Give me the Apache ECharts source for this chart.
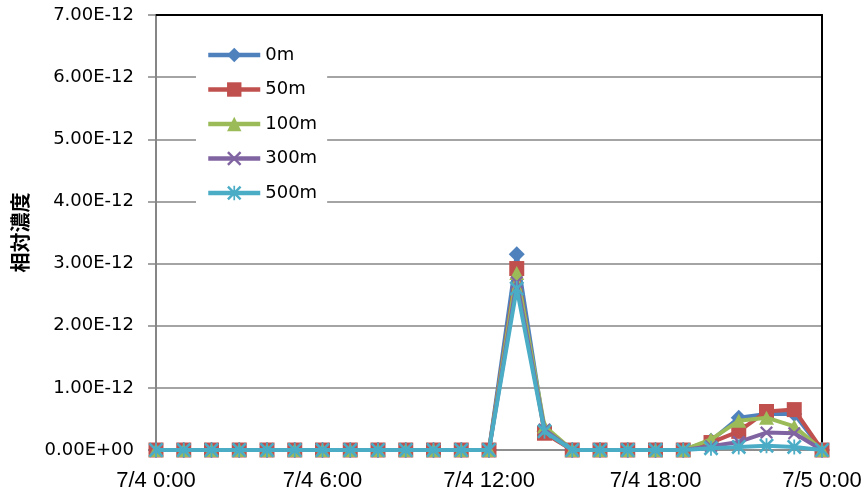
<!DOCTYPE html>
<html>
<head>
<meta charset="utf-8">
<script src="https://cdn.jsdelivr.net/npm/echarts@6/dist/echarts.min.js"></script>
<style>
  html, body { margin: 0; padding: 0; background: #fff; }
  #chart { width: 867px; height: 502px; }
</style>
</head>
<body>
<div id="chart"></div>
<script>
// Hourly time stamps, 7/4 0:00 .. 7/5 0:00
const hourLabels = [
  '7/4 0:00', '7/4 1:00', '7/4 2:00', '7/4 3:00', '7/4 4:00', '7/4 5:00',
  '7/4 6:00', '7/4 7:00', '7/4 8:00', '7/4 9:00', '7/4 10:00', '7/4 11:00',
  '7/4 12:00', '7/4 13:00', '7/4 14:00', '7/4 15:00', '7/4 16:00', '7/4 17:00',
  '7/4 18:00', '7/4 19:00', '7/4 20:00', '7/4 21:00', '7/4 22:00', '7/4 23:00',
  '7/5 0:00'
];

// Y axis tick labels (0 .. 7E-12)
const yTickLabels = [
  '0.00E+00', '1.00E-12', '2.00E-12', '3.00E-12',
  '4.00E-12', '5.00E-12', '6.00E-12', '7.00E-12'
];

const seriesNames = ['0m', '50m', '100m', '300m', '500m'];

// Relative concentration by height
const conc0m = [
  0, 0, 0, 0, 0, 0, 0, 0, 0, 0, 0, 0, 0,
  3.15e-12, 0.30e-12,
  0, 0, 0, 0, 0,
  0.15e-12, 0.52e-12, 0.58e-12, 0.58e-12, 0
];
const conc50m = [
  0, 0, 0, 0, 0, 0, 0, 0, 0, 0, 0, 0, 0,
  2.92e-12, 0.27e-12,
  0, 0, 0, 0, 0,
  0.12e-12, 0.30e-12, 0.62e-12, 0.65e-12, 0
];
const conc100m = [
  0, 0, 0, 0, 0, 0, 0, 0, 0, 0, 0, 0, 0,
  2.85e-12, 0.38e-12,
  0, 0, 0, 0, 0,
  0.17e-12, 0.47e-12, 0.52e-12, 0.38e-12, 0
];
const conc300m = [
  0, 0, 0, 0, 0, 0, 0, 0, 0, 0, 0, 0, 0,
  2.70e-12, 0.33e-12,
  0, 0, 0, 0, 0,
  0.06e-12, 0.13e-12, 0.28e-12, 0.27e-12, 0
];
const conc500m = [
  0, 0, 0, 0, 0, 0, 0, 0, 0, 0, 0, 0, 0,
  2.60e-12, 0.30e-12,
  0, 0, 0, 0, 0,
  0.03e-12, 0.05e-12, 0.07e-12, 0.05e-12, 0
];

const allSeries = [conc0m, conc50m, conc100m, conc300m, conc500m];
const colors = ['#4F81BD', '#C0504D', '#9BBB59', '#8064A2', '#4BACC6'];

// Marker shapes: diamond, square, triangle, x, asterisk
const xMark = 'path://M0,1.2L1.2,0L5,3.8L8.8,0L10,1.2L6.2,5L10,8.8L8.8,10L5,6.2L1.2,10L0,8.8L3.8,5Z';
const starMark = 'path://M0,1.2L1.2,0L5,3.8L8.8,0L10,1.2L6.2,5L10,8.8L8.8,10L5,6.2L1.2,10L0,8.8L3.8,5Z' +
                 'M4.4,0L5.6,0L5.6,10L4.4,10Z';
const symbols = ['diamond', 'rect', 'triangle', xMark, starMark];
const symbolSizes = [[16, 16], [15, 15], [15, 14], [13, 13], [15, 15]];

const chart = echarts.init(document.getElementById('chart'), null, { renderer: 'canvas' });

const gray = '#868686';

chart.setOption({
  animation: false,
  backgroundColor: '#ffffff',
  grid: { left: 156, right: 45, top: 15, bottom: 52, containLabel: false },
  legend: {
    orient: 'vertical',
    left: 196,
    top: 40,
    padding: [5, 10, 5, 10],
    backgroundColor: '#ffffff',
    itemWidth: 52,
    itemHeight: 18,
    itemGap: 14.5,
    lineStyle: { width: 4.5 },
    textStyle: { fontFamily: 'DejaVu Sans', fontSize: 18, color: '#000', lineHeight: 20 },
    data: seriesNames
  },
  xAxis: [
    {
      type: 'category',
      data: hourLabels,
      boundaryGap: false,
      axisLine: { show: true, lineStyle: { color: gray, width: 1.5 } },
      axisTick: { show: false },
      axisLabel: {
        interval: 5,
        margin: 20,
        fontFamily: 'Liberation Sans',
        fontSize: 22,
        color: '#000'
      },
      splitLine: { show: false }
    },
    {
      type: 'category',
      data: hourLabels,
      boundaryGap: false,
      position: 'top',
      axisLine: { show: true, onZero: false, lineStyle: { color: '#000', width: 2 } },
      axisTick: { show: false },
      axisLabel: { show: false },
      splitLine: { show: false }
    }
  ],
  yAxis: [
    {
      type: 'value',
      min: 0,
      max: 7e-12,
      interval: 1e-12,
      name: '相対濃度',
      nameLocation: 'middle',
      nameGap: 126,
      nameRotate: 90,
      nameTextStyle: {
        fontFamily: 'Noto Sans CJK JP',
        fontSize: 20,
        fontWeight: 'bold',
        color: '#000'
      },
      axisLine: { show: true, lineStyle: { color: gray, width: 2 } },
      axisTick: { show: true, inside: false, length: 8, lineStyle: { color: gray, width: 1.5 } },
      axisLabel: {
        margin: 22,
        fontFamily: 'DejaVu Sans',
        fontSize: 18,
        color: '#000',
        formatter: function (v) {
          return yTickLabels[Math.round(v / 1e-12)];
        }
      },
      splitLine: { show: true, lineStyle: { color: gray, width: 1.5 } }
    },
    {
      type: 'value',
      min: 0,
      max: 7e-12,
      interval: 1e-12,
      position: 'right',
      axisLine: { show: true, onZero: false, lineStyle: { color: '#000', width: 2 } },
      axisTick: { show: false },
      axisLabel: { show: false },
      splitLine: { show: false }
    }
  ],
  series: allSeries.map(function (vals, i) {
    return {
      name: seriesNames[i],
      type: 'line',
      xAxisIndex: 0,
      yAxisIndex: 0,
      data: vals,
      symbol: symbols[i],
      symbolSize: symbolSizes[i],
      showAllSymbol: true,
      color: colors[i],
      lineStyle: { color: colors[i], width: 4 },
      itemStyle: { color: colors[i], borderWidth: 0 },
      z: 2 + i
    };
  })
});
</script>
</body>
</html>
